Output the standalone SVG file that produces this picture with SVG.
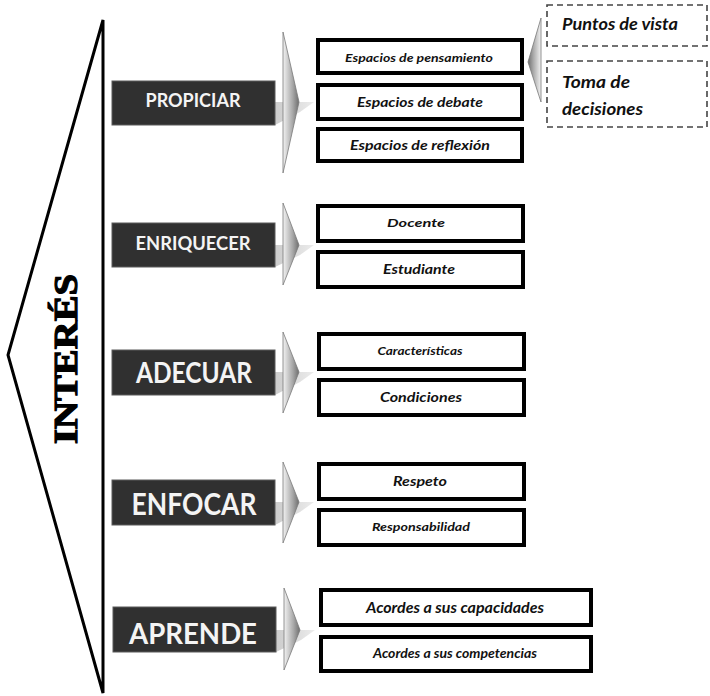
<svg xmlns="http://www.w3.org/2000/svg" width="710" height="696" viewBox="0 0 710 696">
<defs>
<linearGradient id="chev" x1="0" y1="0" x2="1" y2="0">
<stop offset="0" stop-color="#f2f2f2"/>
<stop offset="0.6" stop-color="#a8a8a8"/>
<stop offset="1" stop-color="#6e6e6e"/>
</linearGradient>
<linearGradient id="chevL" x1="1" y1="0" x2="0" y2="0">
<stop offset="0" stop-color="#f2f2f2"/>
<stop offset="0.6" stop-color="#a8a8a8"/>
<stop offset="1" stop-color="#6e6e6e"/>
</linearGradient>
<linearGradient id="shaft" x1="0" y1="0" x2="1" y2="0">
<stop offset="0" stop-color="#cccccc"/>
<stop offset="1" stop-color="#ececec"/>
</linearGradient>
</defs>
<style>
.dark{fill:#303030;stroke:#5a5a5a;stroke-width:1}
.lbl{font-family:"Lato","Open Sans","Liberation Sans",sans-serif;font-weight:bold;fill:#f4f4f4;text-anchor:middle}
.box{fill:#ffffff;stroke:#000000;stroke-width:4}
.bt{font-family:"Lato","Open Sans","Liberation Sans",sans-serif;font-weight:bold;font-style:italic;fill:#111111;text-anchor:middle}
.dash{fill:#ffffff;stroke:#444444;stroke-width:1.6;stroke-dasharray:6 4}
.dt{font-family:"Lato","Open Sans","Liberation Sans",sans-serif;font-weight:bold;font-style:italic;fill:#111111}
.chev{fill:url(#chev);stroke:#7a7a7a;stroke-width:0.8}
.shaft{fill:url(#shaft)}
</style>

<g id="interes">
<polygon points="103,20 8,355 103,693" fill="none" stroke="#000" stroke-width="3" stroke-linejoin="miter"/>
<text transform="translate(77,359) rotate(-90)" text-anchor="middle" font-family="Liberation Serif, serif" font-weight="bold" font-size="34" textLength="170" lengthAdjust="spacingAndGlyphs" fill="#000" stroke="#000" stroke-width="1.2">INTERÉS</text>
</g>

<g id="connectors">
<polygon class="shaft" points="275,102 314,102 300,112 275,125"/>
<polygon class="chev" points="283,32 299,102 283,173"/>
<polygon class="shaft" points="275,245 314,245 300,255 275,267"/>
<polygon class="chev" points="283,203 299,245 283,285"/>
<polygon class="shaft" points="275,372 314,372 300,382 275,395"/>
<polygon class="chev" points="283,332 299,372 283,413"/>
<polygon class="shaft" points="275,502 314,502 300,512 275,525"/>
<polygon class="chev" points="283,462 299,502 283,543"/>
<polygon class="shaft" points="276,630 315,630 301,640 276,652"/>
<polygon class="chev" points="284,588 300,630 284,670"/>
<polygon points="541,18 528,62 541,102" fill="url(#chevL)" stroke="#7a7a7a" stroke-width="0.8"/>
</g>

<g id="propiciar">
<rect class="dark" x="112" y="81" width="163" height="44"/>
<text class="lbl" x="193" y="107" font-size="18" textLength="95" lengthAdjust="spacingAndGlyphs">PROPICIAR</text>
</g>
<g id="espacios-pensamiento">
<rect class="box" x="318" y="40" width="204" height="33"/>
<text class="bt" x="419" y="62" font-size="12" textLength="148" lengthAdjust="spacingAndGlyphs">Espacios de pensamiento</text>
</g>
<g id="espacios-debate">
<rect class="box" x="318" y="85" width="204" height="34"/>
<text class="bt" x="420" y="107" font-size="14" textLength="126" lengthAdjust="spacingAndGlyphs">Espacios de debate</text>
</g>
<g id="espacios-reflexion">
<rect class="box" x="318" y="129" width="204" height="32"/>
<text class="bt" x="420" y="150" font-size="14" textLength="140" lengthAdjust="spacingAndGlyphs">Espacios de reflexión</text>
</g>
<g id="puntos-vista">
<rect class="dash" x="547" y="5" width="160" height="41"/>
<text class="dt" x="562" y="30" font-size="17" textLength="116" lengthAdjust="spacingAndGlyphs">Puntos de vista</text>
</g>
<g id="toma-decisiones">
<rect class="dash" x="547" y="61" width="160" height="66"/>
<text class="dt" x="562" y="88" font-size="17" textLength="68" lengthAdjust="spacingAndGlyphs">Toma de</text>
<text class="dt" x="562" y="115" font-size="17" textLength="81" lengthAdjust="spacingAndGlyphs">decisiones</text>
</g>

<g id="enriquecer">
<rect class="dark" x="112" y="223" width="163" height="44"/>
<text class="lbl" x="193" y="250" font-size="18" textLength="115" lengthAdjust="spacingAndGlyphs">ENRIQUECER</text>
</g>
<g id="docente">
<rect class="box" x="318" y="206" width="205" height="35"/>
<text class="bt" x="416" y="227" font-size="11.5" textLength="58" lengthAdjust="spacingAndGlyphs">Docente</text>
</g>
<g id="estudiante">
<rect class="box" x="318" y="252" width="205" height="35"/>
<text class="bt" x="419" y="274" font-size="14" textLength="72" lengthAdjust="spacingAndGlyphs">Estudiante</text>
</g>

<g id="adecuar">
<rect class="dark" x="112" y="350" width="163" height="45"/>
<text class="lbl" x="194" y="383" font-size="28" textLength="116" lengthAdjust="spacingAndGlyphs">ADECUAR</text>
</g>
<g id="caracteristicas">
<rect class="box" x="319" y="334" width="205" height="35"/>
<text class="bt" x="420" y="355" font-size="12" textLength="85" lengthAdjust="spacingAndGlyphs">Características</text>
</g>
<g id="condiciones">
<rect class="box" x="319" y="380" width="205" height="35"/>
<text class="bt" x="421" y="402" font-size="14" textLength="82" lengthAdjust="spacingAndGlyphs">Condiciones</text>
</g>

<g id="enfocar">
<rect class="dark" x="112" y="480" width="163" height="45"/>
<text class="lbl" x="194" y="515" font-size="30" textLength="125" lengthAdjust="spacingAndGlyphs">ENFOCAR</text>
</g>
<g id="respeto">
<rect class="box" x="319" y="464" width="205" height="35"/>
<text class="bt" x="420" y="486" font-size="14" textLength="54" lengthAdjust="spacingAndGlyphs">Respeto</text>
</g>
<g id="responsabilidad">
<rect class="box" x="319" y="510" width="205" height="35"/>
<text class="bt" x="421" y="531" font-size="12" textLength="98" lengthAdjust="spacingAndGlyphs">Responsabilidad</text>
</g>

<g id="aprende">
<rect class="dark" x="113" y="607" width="163" height="45"/>
<text class="lbl" x="193" y="644" font-size="29" textLength="128" lengthAdjust="spacingAndGlyphs">APRENDE</text>
</g>
<g id="capacidades">
<rect class="box" x="321" y="590" width="270" height="35"/>
<text class="bt" x="455" y="613" font-size="15" textLength="178" lengthAdjust="spacingAndGlyphs">Acordes a sus capacidades</text>
</g>
<g id="competencias">
<rect class="box" x="321" y="637" width="270" height="34"/>
<text class="bt" x="455" y="658" font-size="12.5" textLength="164" lengthAdjust="spacingAndGlyphs">Acordes a sus competencias</text>
</g>
</svg>
